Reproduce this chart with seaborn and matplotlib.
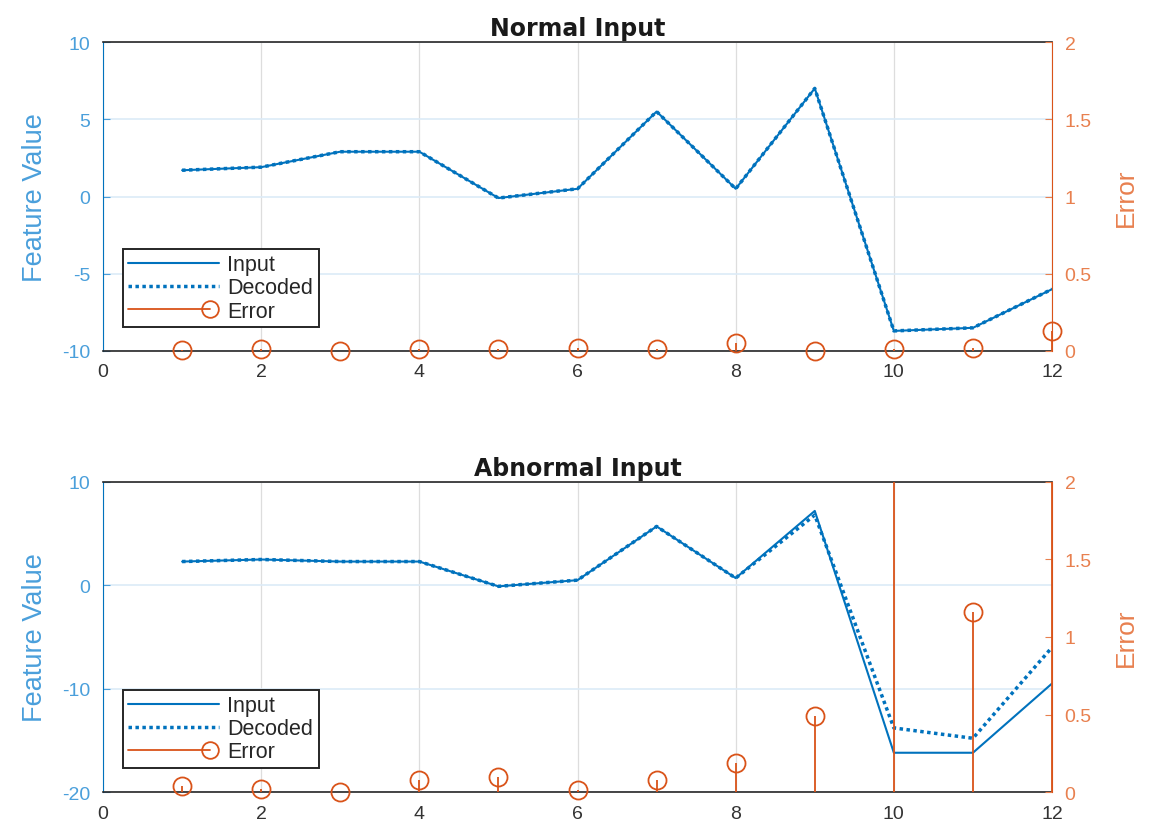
import numpy as np
import pandas as pd
import matplotlib
matplotlib.use("Agg")
import matplotlib.pyplot as plt
from matplotlib.lines import Line2D
from matplotlib.legend_handler import HandlerBase
import seaborn as sns

# values
steps = [1, 2, 3, 4, 5, 6, 7, 8, 9, 10, 11, 12]

normal_input = [1.7, 1.9, 2.9, 2.9, -0.1, 0.5, 5.5, 0.5, 7.0, -8.7, -8.5, -6.0]
normal_decoded = [1.7, 1.9, 2.9, 2.9, -0.1, 0.5, 5.5, 0.5, 7.0, -8.7, -8.5, -6.0]
normal_error = [0.005, 0.01, 0.0, 0.015, 0.01, 0.02, 0.01, 0.05, 0.0, 0.015, 0.02, 0.13]

abnormal_input = [2.3, 2.5, 2.3, 2.3, -0.1, 0.5, 5.7, 0.7, 7.2, -16.2, -16.2, -9.5]
abnormal_decoded = [2.3, 2.5, 2.3, 2.3, -0.1, 0.5, 5.7, 0.7, 6.8, -13.8, -14.8, -6.0]
abnormal_error = [0.04, 0.02, 0.0, 0.08, 0.1, 0.01, 0.08, 0.19, 0.49, 2.6, 1.16, 2.6]

BLUE = "#0072BD"
ORANGE = "#D95319"

sns.set_style("white")
plt.rcParams['font.family'] = ['Liberation Sans', 'DejaVu Sans']
plt.rcParams['axes.unicode_minus'] = False

fig = plt.figure(figsize=(11.51, 8.29), dpi=100)


class StemHandler(HandlerBase):
    # stem legend entry: line with the circle sitting at its right end
    def create_artists(self, legend, orig_handle, xdescent, ydescent,
                       width, height, fontsize, trans):
        y = height / 2 - ydescent
        r = 6
        line = Line2D([-xdescent, width - xdescent - r], [y, y],
                      color=ORANGE, lw=1.3, transform=trans)
        mark = Line2D([width - xdescent - r], [y], marker="o", markersize=12,
                      markerfacecolor="none", markeredgecolor=ORANGE, mew=1.3,
                      transform=trans)
        return [line, mark]


def draw_panel(rect, title, inp, dec, err, ylim, yticks):
    ax = fig.add_axes(rect)
    df = pd.DataFrame({"step": steps, "Input": inp, "Decoded": dec})
    sns.lineplot(data=df, x="step", y="Input", ax=ax, color=BLUE, lw=1.5, label="Input")
    sns.lineplot(data=df, x="step", y="Decoded", ax=ax, color=BLUE, lw=2.5,
                 linestyle=(0, (1, 1)), label="Decoded")
    ax.set_xlim(0, 12)
    ax.set_ylim(*ylim)
    ax.set_xticks(range(0, 13, 2))
    ax.set_yticks(yticks)
    ax.set_xlabel("")
    ax.set_ylabel("Feature Value", color="#4a9fdb", fontsize=19.5, labelpad=10)
    ax.set_title(title, fontsize=17, fontweight="bold", pad=5,
                 family=["DejaVu Sans"], color="#1a1a1a")
    ax.grid(axis="x", color="#dddddd", lw=0.9)
    ax.grid(axis="y", color="#dcebf7", lw=1.2)
    ax.set_axisbelow(True)
    ax.tick_params(axis="x", direction="in", length=5, labelsize=14, pad=9, colors="#333333")
    ax.tick_params(axis="y", direction="in", length=5, labelsize=14, pad=9, colors="#4a9fdb")
    for s in ["top", "bottom"]:
        ax.spines[s].set_color("#262626")
        ax.spines[s].set_linewidth(1.2)
    ax.spines["left"].set_color(BLUE)
    ax.spines["right"].set_visible(False)
    ax.legend_.remove()

    ax2 = ax.twinx()
    ml, sl, bl = ax2.stem(steps, err, linefmt="-", markerfmt="o", basefmt=" ")
    plt.setp(sl, color=ORANGE, lw=1.3)
    shown = [i for i, e in enumerate(err) if e <= 2]
    plt.setp(ml, markerfacecolor="none", markeredgecolor=ORANGE, markersize=13,
             mew=1.3, markevery=shown, clip_on=False)
    ax2.set_ylim(0, 2)
    ax2.set_yticks([0, 0.5, 1, 1.5, 2])
    ax2.set_yticklabels(["0", "0.5", "1", "1.5", "2"])
    ax2.set_ylabel("Error", color="#e8804f", fontsize=19, labelpad=16)
    ax2.tick_params(axis="y", direction="in", length=5, labelsize=14, pad=9, colors="#e8804f")
    ax2.spines["right"].set_color(ORANGE)
    for s in ["top", "bottom", "left"]:
        ax2.spines[s].set_visible(False)

    handles = [Line2D([], [], color=BLUE, lw=1.5),
               Line2D([], [], color=BLUE, lw=2.5, linestyle=(0, (1, 1))),
               ml]
    leg = ax2.legend(handles, ["Input", "Decoded", "Error"], loc="lower left",
                     bbox_to_anchor=(0.021, 0.078), fontsize=15.5, frameon=True,
                     fancybox=False, edgecolor="#262626", framealpha=1,
                     handlelength=4.2, borderpad=0.25, labelspacing=0.1,
                     handletextpad=0.4, borderaxespad=0,
                     handler_map={ml: StemHandler()})
    leg.get_frame().set_linewidth(1.4)
    return ax, ax2


draw_panel([0.0895, 0.5754, 0.8245, 0.3727], "Normal Input",
           normal_input, normal_decoded, normal_error, (-10, 10), [-10, -5, 0, 5, 10])
draw_panel([0.0895, 0.0434, 0.8245, 0.374], "Abnormal Input",
           abnormal_input, abnormal_decoded, abnormal_error, (-20, 10), [-20, -10, 0, 10])

fig.savefig("out.png", dpi=100)
